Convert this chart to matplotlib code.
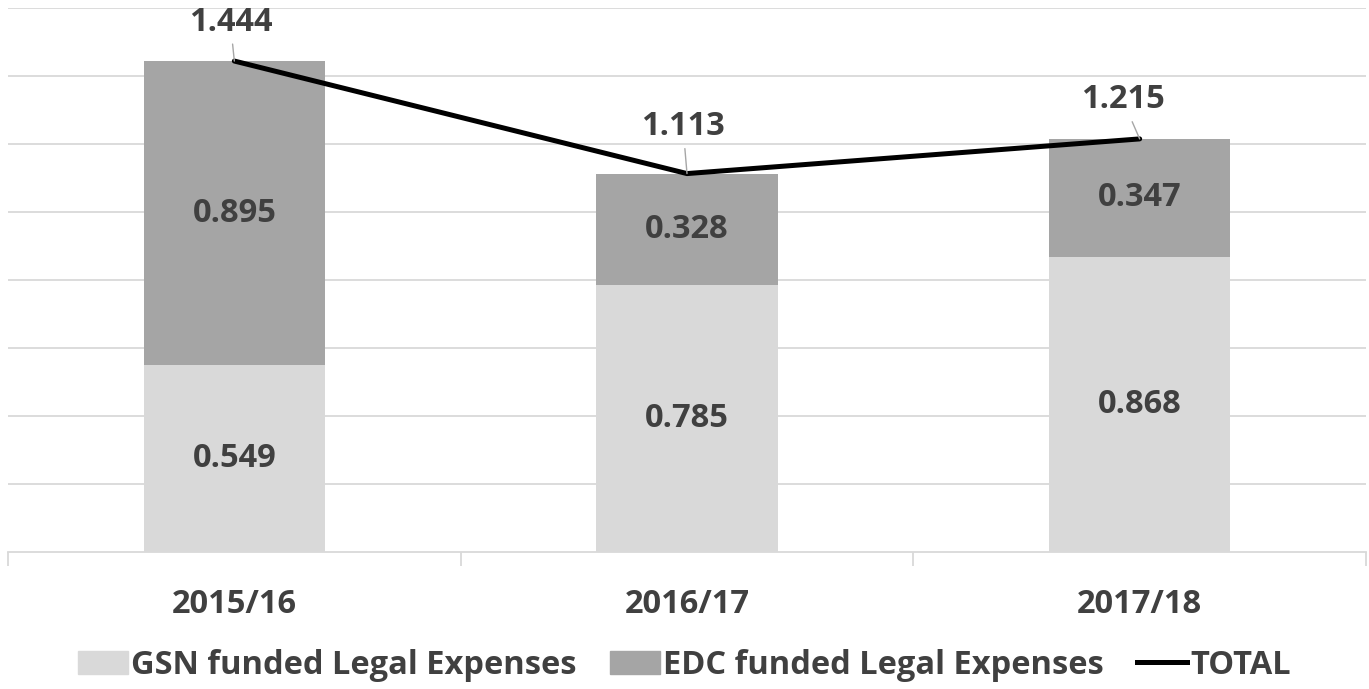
import numpy as np
import matplotlib.pyplot as plt
from matplotlib.patches import Patch
from matplotlib.lines import Line2D

years = ['2015/16', '2016/17', '2017/18']
gsn = [0.549, 0.785, 0.868]
edc = [0.895, 0.328, 0.347]
total = [1.444, 1.113, 1.215]

# where the total labels sit relative to their point (pixels)
total_offsets = [(-4, 39), (-4, 47), (-17, 39)]

plt.rcParams['font.family'] = ['Open Sans', 'DejaVu Sans']
txt = '#404040'
fs = 23.5

fig = plt.figure(figsize=(13.69, 6.89), dpi=100)
ax = fig.add_axes([8 / 1369, 137 / 689, 1358 / 1369, 544 / 689])

x = np.arange(len(years))
ax.bar(x, gsn, width=0.4, color='#d9d9d9', zorder=2)
ax.bar(x, edc, width=0.4, bottom=gsn, color='#a5a5a5', zorder=2)
ax.plot(x, total, color='black', lw=3.6, zorder=3, solid_capstyle='round')

for i in range(len(years)):
    ax.text(x[i], gsn[i] / 2, f'{gsn[i]:.3f}', ha='center', va='center',
            fontsize=fs, fontweight='bold', color=txt, zorder=4)
    ax.text(x[i], gsn[i] + edc[i] / 2, f'{edc[i]:.3f}', ha='center', va='center',
            fontsize=fs, fontweight='bold', color=txt, zorder=4)
    ax.annotate(f'{total[i]:.3f}', xy=(x[i], total[i]), xytext=total_offsets[i],
                textcoords='offset pixels', ha='center', va='center',
                fontsize=fs, fontweight='bold', color=txt, zorder=4,
                arrowprops=dict(arrowstyle='-', color='#a6a6a6', lw=1,
                                shrinkA=2, shrinkB=0))

ax.set_xlim(-0.5, 2.5)
ax.set_ylim(0, 1.6)
ax.set_yticks(np.arange(0.2, 1.61, 0.2))
ax.yaxis.grid(True, color='#d9d9d9', lw=1.3, zorder=0)
ax.tick_params(axis='y', length=0, labelleft=False)

ax.set_xticks(x)
ax.set_xticklabels(years, fontsize=fs, fontweight='bold', color=txt)
ax.tick_params(axis='x', length=0, pad=26)
ax.set_xticks([-0.5, 0.5, 1.5, 2.5], minor=True)
ax.tick_params(axis='x', which='minor', length=10, color='#d9d9d9', width=1.3)

for s in ['top', 'right', 'left']:
    ax.spines[s].set_visible(False)
ax.spines['bottom'].set_color('#d9d9d9')
ax.spines['bottom'].set_linewidth(1.3)

handles = [Patch(color='#d9d9d9', label='GSN funded Legal Expenses'),
           Patch(color='#a5a5a5', label='EDC funded Legal Expenses'),
           Line2D([], [], color='black', lw=3.6, label='TOTAL')]
fig.legend(handles=handles, loc='center', bbox_to_anchor=(0.5, 24 / 689), ncol=3,
           frameon=False, prop={'size': fs, 'weight': 'bold'}, labelcolor=txt,
           handlelength=1.55, handleheight=0.7, handletextpad=0.1, columnspacing=1.0)

fig.savefig('out.png', dpi=100)
